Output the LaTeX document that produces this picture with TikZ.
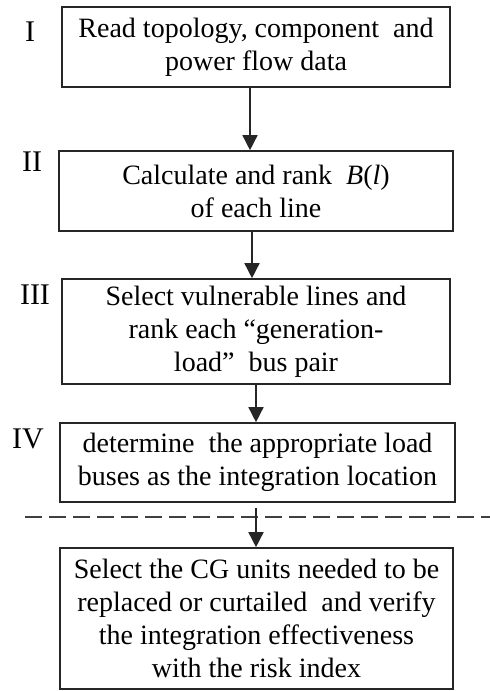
\documentclass[tikz,border=0pt]{standalone}
\usepackage{fontspec}
\setmainfont{Liberation Serif}
\usetikzlibrary{arrows.meta}
\tikzset{
  stepbox/.style={draw=black!85, line width=1.6pt, inner sep=0pt, align=center,
    font=\fontsize{28}{33}\selectfont},
  flow/.style={draw=black!85, line width=1.5pt, -{Triangle[width=15pt,length=15pt]}},
  numeral/.style={inner sep=0pt, font=\fontsize{30}{30}\selectfont},
  divider/.style={draw=black!75, line width=1.6pt, dash pattern=on 17pt off 7pt}
}
\begin{document}
\begin{tikzpicture}[x=1pt,y=1pt]
\useasboundingbox (0,0) rectangle (490,-691);

% process steps
\node[stepbox, minimum width=388pt, minimum height=80pt] (b1) at (256,-47)
  {Read topology, component\ \ and\\power flow data};
\node[stepbox, minimum width=394pt, minimum height=80pt] (b2) at (256,-191)
  {Calculate and rank\ \ \textit{B}(\textit{l})\\of each line};
\node[stepbox, minimum width=388pt, minimum height=105pt] (b3) at (256,-331.5)
  {Select vulnerable lines and\\rank each\ “generation-\\load”\ \ bus pair};
\node[stepbox, minimum width=395pt, minimum height=79pt] (b4) at (257.5,-462.5)
  {determine\ \ the appropriate load\\buses as the integration location};
\node[stepbox, minimum width=393pt, minimum height=141pt] (b5) at (256.5,-618.5)
  {Select the CG units needed to be\\replaced or curtailed\ \ and verify\\the integration effectiveness\\with the risk index};

% stage numerals
\node[numeral] (n1) at (30,-32) {I};
\node[numeral] (n2) at (32,-162) {II};
\node[numeral] (n3) at (35,-295) {III};
\node[numeral] (n4) at (28,-439) {IV};

% separator between the stages and the final check
\coordinate (dl) at (25,-517);
\coordinate (dr) at (490,-517);
\draw[divider] (dl) -- (dr);

% connectors
\draw[flow] ([xshift=-6pt]b1.south) -- ([xshift=-6pt]b2.north);
\draw[flow] ([xshift=-4pt]b2.south) -- ([xshift=-4pt]b2.south |- b3.north);
\draw[flow] ([xshift=0pt]b3.south) -- (b3.south |- b4.north);
\draw[flow] ([xshift=-1.5pt,yshift=-5pt]b4.south) -- ([xshift=-1.5pt]b4.south |- b5.north);
\end{tikzpicture}
\end{document}
